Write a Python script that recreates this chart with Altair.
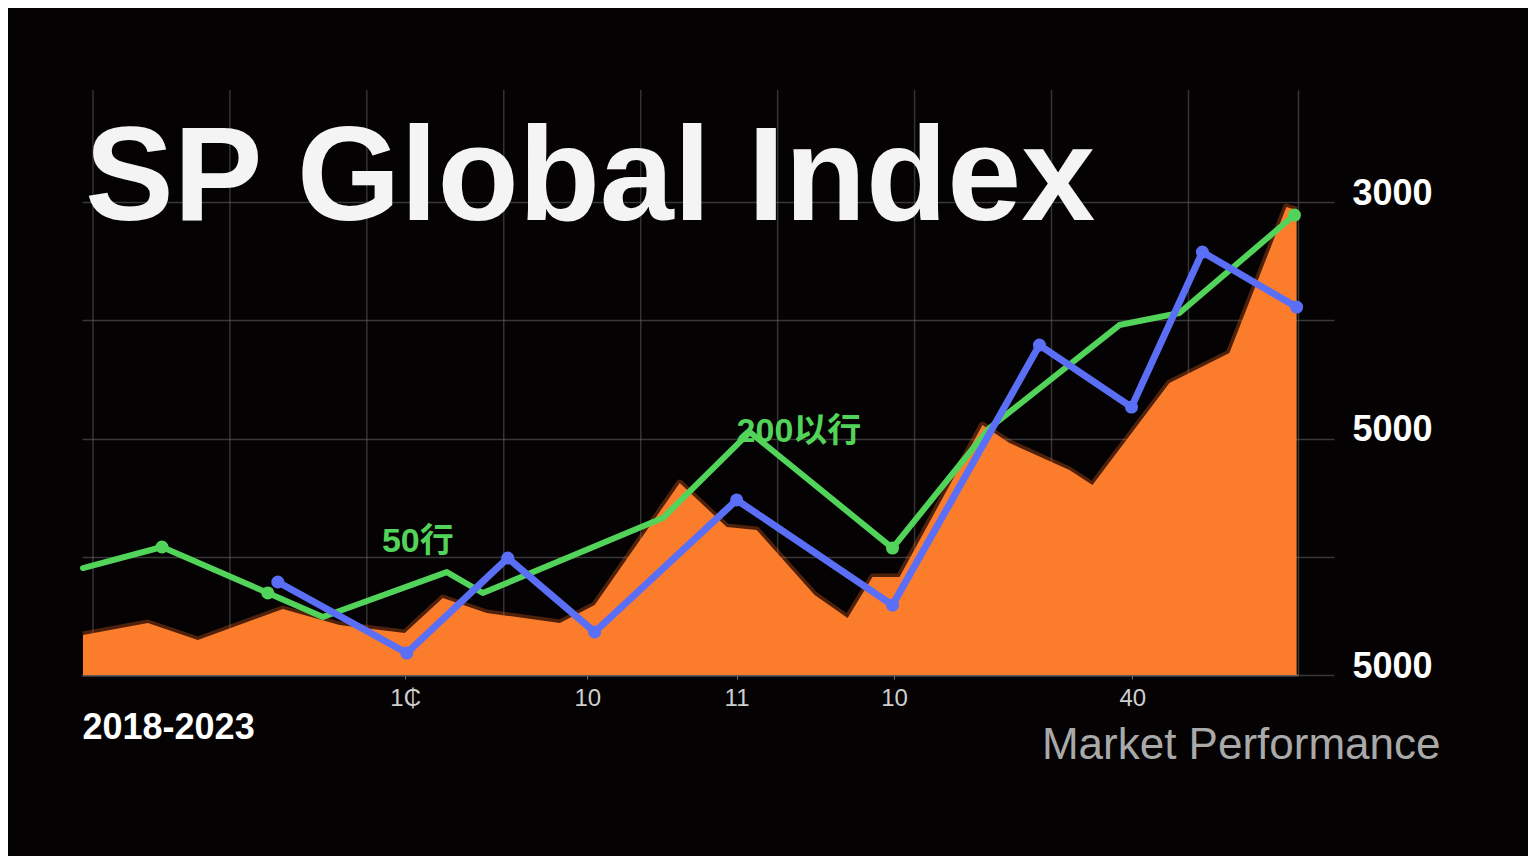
import json
import altair as alt
import pandas as pd

# ---------------- data ----------------
# orange area (composite index)
area_x = [-0.73, 4.01, 7.66, 13.87, 18.0, 22.77, 25.55, 28.76, 34.09, 36.64, 42.85, 46.28, 48.47,
          52.7, 55.11, 56.93, 58.9, 64.96, 66.93, 71.31, 72.99, 78.61, 82.99, 87.15, 87.9]
area_y = [338, 440, 296, 558, 423, 355, 651, 525, 440, 592, 1624, 1252, 1227,
          677, 482, 829, 829, 2115, 1963, 1734, 1607, 2470, 2724, 3959, 3934]

# green line (moving average)
green_x = [-0.73, 5.04, 12.77, 16.79, 25.84, 28.47, 41.61, 47.96, 58.39, 65.47, 74.96, 79.34, 87.74]
green_y = [905, 1083, 694, 491, 871, 694, 1328, 2056, 1074, 2090, 2961, 3063, 3892]
green_dot = [False, True, True, False, False, False, False, False, True, False, False, False, True]

# blue line
blue_x = [13.50, 22.92, 30.29, 36.64, 47.01, 58.39, 69.12, 75.84, 81.02, 87.9]
blue_y = [787, 186, 990, 364, 1481, 592, 2792, 2267, 3579, 3113]

# axes
grid_x = [0, 10, 20, 30, 40, 50, 60, 70, 80]
x_label_pos = [22.8, 36.1, 47.0, 58.5, 75.9]
x_labels = ["1₵", "10", "11", "10", "40"]
y_tick_vals = [0, 1000, 2000, 3000, 4000]
y_tick_labels = ["5000", "", "5000", "", "3000"]

# annotations
ann_text = ["50行", "200以行"]
ann_x = [21.1, 47.0]
ann_y = [1125, 2056]

title_text = ["SP Global Index"]
title_x = [-0.58]
title_y = [3849]

# ---------------- frames ----------------
df_area = pd.DataFrame({"x": area_x, "y": area_y})
df_green = pd.DataFrame({"x": green_x, "y": green_y, "dot": green_dot})
df_blue = pd.DataFrame({"x": blue_x, "y": blue_y})
df_grid = pd.DataFrame({"x": grid_x})
df_ann = pd.DataFrame({"x": ann_x, "y": ann_y, "t": ann_text})
df_title = pd.DataFrame({"x": title_x, "y": title_y, "t": title_text})

ORANGE = "#fb7d2c"
GREEN = "#52d35a"
BLUE = "#5a6ff5"
GRID = "#6e6e6e"

xs = alt.Scale(domain=[-0.8, 88], nice=False, zero=False)
ys = alt.Scale(domain=[0, 4950], nice=False, zero=False)

x_expr = "{}[indexof({}, datum.value)]".format(
    json.dumps(x_labels, ensure_ascii=False), json.dumps(x_label_pos))
y_expr = "{}[indexof({}, datum.value)]".format(
    json.dumps(y_tick_labels, ensure_ascii=False), json.dumps(y_tick_vals))

x_axis = alt.Axis(
    values=x_label_pos, labelExpr=x_expr, grid=False, orient="bottom",
    labelColor="#cfcfcf", labelFontSize=24, labelFont="Liberation Sans",
    labelPadding=7, tickSize=4, tickColor="#777777", domainColor="#5c5c5c", domainWidth=2,
    title="2018-2023", titleColor="#ffffff", titleFontSize=36, titleFontWeight="bold",
    titleFont="Liberation Sans", titleAlign="left", titleAnchor="start",
    titleBaseline="middle", titleX=0, titleY=52,
)
y_axis = alt.Axis(
    values=y_tick_vals, labelExpr=y_expr, orient="right", grid=True,
    gridColor=GRID, gridOpacity=0.5, gridWidth=1.5,
    labelColor="#ffffff", labelFontSize=36, labelFontWeight="bold", labelFont="Liberation Sans",
    labelPadding=18, labelOffset=-9, tickSize=36, tickColor=GRID, tickOpacity=0.5, tickWidth=1.5,
    domainColor=GRID, domainOpacity=0.5, domainWidth=1.5,
    title="Market Performance", titleAngle=0, titleX=142, titleY=655,
    titleAlign="right", titleBaseline="middle", titleColor="#a9a9a9",
    titleFontSize=44, titleFontWeight="normal", titleFont="Liberation Sans",
)

X = alt.X("x:Q", scale=xs, axis=x_axis)
Y = alt.Y("y:Q", scale=ys, axis=y_axis)

grid_layer = alt.Chart(df_grid).mark_rule(color=GRID, opacity=0.45, strokeWidth=1.5).encode(x=X)

area_glow = alt.Chart(df_area).mark_line(color="#ff6a20", opacity=0.3, strokeWidth=7,
                                         strokeJoin="round").encode(x=X, y=Y)
area = alt.Chart(df_area).mark_area(color=ORANGE, opacity=1).encode(x=X, y=Y)

g_line = alt.Chart(df_green).mark_line(color=GREEN, strokeWidth=6,
                                       strokeJoin="round", strokeCap="round").encode(x=X, y=Y)
b_line = alt.Chart(df_blue).mark_line(color=BLUE, strokeWidth=7,
                                      strokeJoin="round", strokeCap="round").encode(x=X, y=Y)

g_dots = alt.Chart(df_green).transform_filter("datum.dot").mark_circle(
    color=GREEN, size=170, opacity=1).encode(x=X, y=Y)
b_dots = alt.Chart(df_blue).mark_circle(color=BLUE, size=170, opacity=1).encode(x=X, y=Y)

ann = alt.Chart(df_ann).mark_text(
    color=GREEN, fontSize=34, fontWeight="bold", align="left", baseline="middle",
    font="Liberation Sans, Noto Sans CJK SC").encode(x=X, y=Y, text="t:N")

title = alt.Chart(df_title).mark_text(
    color="#f4f4f4", fontSize=133, fontWeight="bold", align="left", baseline="alphabetic",
    font="Liberation Sans").encode(x=X, y=Y, text="t:N")

chart = alt.layer(
    grid_layer, area_glow, area, g_line, b_line, g_dots, b_dots, ann, title,
).properties(
    width=1216, height=585,
    autosize=alt.AutoSizeParams(type="none"),
    padding={"left": 74, "top": 82, "right": 230, "bottom": 181},
    background="#040202",
).configure_view(stroke=None)

chart.save("out.html", embed_options={"renderer": "svg", "actions": False})
